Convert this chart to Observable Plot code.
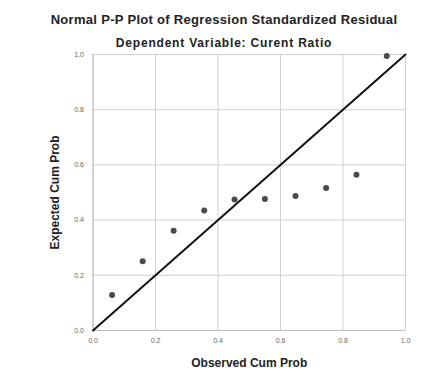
<!DOCTYPE html>
<html>
<head>
<meta charset="utf-8">
<script src="https://cdn.jsdelivr.net/npm/d3@7"></script>
<script src="https://cdn.jsdelivr.net/npm/@observablehq/plot@0.6"></script>
<style>
  html, body { margin: 0; padding: 0; background: #fff; }
  #wrap { position: relative; width: 426px; height: 370px; font-family: "Liberation Sans", Arial, sans-serif; }
  .t { position: absolute; left: 0; width: 448px; text-align: center; font-weight: bold; color: #222; white-space: nowrap; }
  #title { top: 12px; font-size: 13px; line-height: 15px; letter-spacing: 0.3px; }
  #subtitle { top: 36px; font-size: 12px; line-height: 14px; letter-spacing: 0.8px; }
  #chart { position: absolute; left: 0; top: 0; }
</style>
</head>
<body>
<div id="wrap">
  <div id="chart"></div>
  <div class="t" id="title">Normal P-P Plot of Regression Standardized Residual</div>
  <div class="t" id="subtitle">Dependent Variable: Curent Ratio</div>
</div>
<script>
const observed = [0.061, 0.159, 0.258, 0.356, 0.453, 0.55, 0.648, 0.746, 0.843, 0.94];
const expected = [0.129, 0.251, 0.361, 0.435, 0.475, 0.476, 0.487, 0.516, 0.564, 0.995];
const ticks = [0, 0.2, 0.4, 0.6, 0.8, 1.0];
const tickLabels = ["0.0", "0.2", "0.4", "0.6", "0.8", "1.0"];
const refLine = [{x: 0, y: 0}, {x: 1, y: 1}];

const points = observed.map((o, i) => ({x: o, y: expected[i]}));
const fmt = (d) => tickLabels[ticks.indexOf(d)];

const plot = Plot.plot({
  width: 426,
  height: 370,
  marginLeft: 92.5,
  marginRight: 21,
  marginTop: 54,
  marginBottom: 40,
  style: {fontFamily: "Liberation Sans, Arial, sans-serif", background: "transparent"},
  x: {domain: [0, 1], ticks: ticks, tickFormat: fmt, label: null},
  y: {domain: [0, 1], ticks: ticks, tickFormat: fmt, label: null},
  marks: [
    Plot.gridX(ticks, {stroke: "#d0d0d0", strokeOpacity: 1, strokeWidth: 1}),
    Plot.gridY(ticks, {stroke: "#d0d0d0", strokeOpacity: 1, strokeWidth: 1}),
    Plot.ruleX([0], {stroke: "#bbb"}),
    Plot.ruleY([0], {stroke: "#bbb"}),
    Plot.axisX(ticks, {tickSize: 0, tickPadding: 8, fontSize: 7, fill: "#666", tickFormat: fmt, label: null}),
    Plot.axisY(ticks, {tickSize: 0, tickPadding: 9, fontSize: 7, fill: "#666", tickFormat: fmt, label: null}),
    Plot.line(refLine, {x: "x", y: "y", stroke: "#111", strokeWidth: 2}),
    Plot.dot(points, {x: "x", y: "y", r: 3, fill: "#4a4a4a", stroke: "none"}),
    Plot.text(["Observed Cum Prob"], {frameAnchor: "bottom", dy: 36, fontSize: 12, fontWeight: "bold", fill: "#222", letterSpacing: "0.6px"}),
    Plot.text(["Expected Cum Prob"], {frameAnchor: "left", textAnchor: "middle", dx: -38, rotate: -90, fontSize: 12, fontWeight: "bold", fill: "#222", letterSpacing: "0.6px"})
  ]
});
document.getElementById("chart").appendChild(plot);
</script>
</body>
</html>
